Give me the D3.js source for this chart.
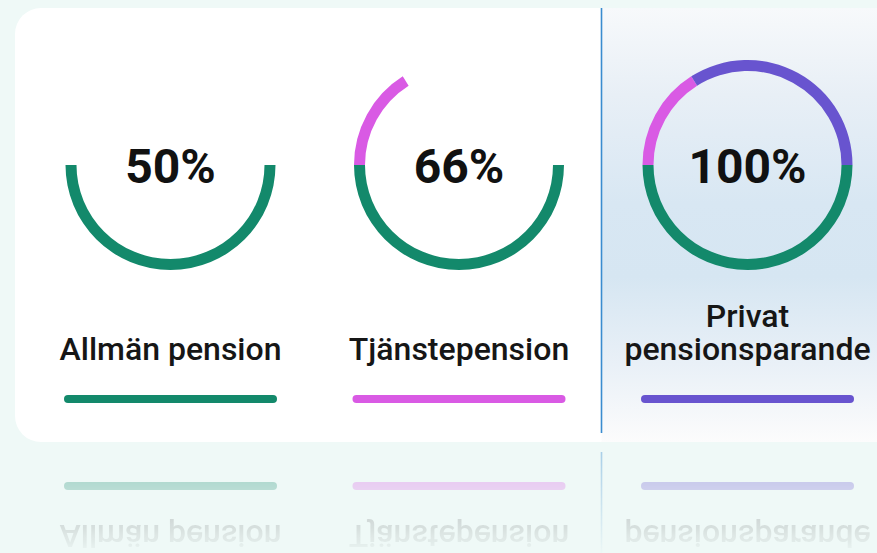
<!DOCTYPE html>
<html>
<head>
<meta charset="utf-8">
<script src="https://cdn.jsdelivr.net/npm/d3@7"></script>
<style>
  body { margin: 0; background: #eff9f7; overflow: hidden; }
  svg { display: block; }
</style>
</head>
<body>
<script>
// ---- data ----
const categories = ["Allmän pension", "Tjänstepension", "Privat pensionsparande"];
const labelLines = [["Allmän pension"], ["Tjänstepension"], ["Privat", "pensionsparande"]];
const shares = [50, 16, 34];              // share of each pension type, percent
const totalLabels = ["50%", "66%", "100%"];
const colors = ["#13896b", "#d95ae4", "#6854cf"];

// ---- layout ----
const W = 877, H = 553;
const cardTop = 8, cardBottom = 442, cardLeft = 15;
const divX = 601.5;
const cy = 165;
const rOuter = 105, rInner = 94;
const barY = 395, barW = 213, barH = 8;
const mirrorAxis = 442.5;

const svg = d3.select("body").append("svg")
    .attr("width", W)
    .attr("height", H);

const defs = svg.append("defs");

// gradient for the highlighted right column
const panelGrad = defs.append("linearGradient")
    .attr("id", "panelGrad")
    .attr("x1", 0).attr("y1", 0).attr("x2", 0).attr("y2", 1);
[[0, "#f7f9fb"], [0.2, "#e8eff6"], [0.45, "#d8e7f3"], [0.62, "#d6e6f2"], [0.82, "#e9f0f7"], [1, "#fcfcfc"]]
    .forEach(s => panelGrad.append("stop").attr("offset", s[0]).attr("stop-color", s[1]));

// fade for the reflection
const fadeGrad = defs.append("linearGradient")
    .attr("id", "fadeGrad")
    .attr("gradientUnits", "userSpaceOnUse")
    .attr("x1", 0).attr("y1", mirrorAxis).attr("x2", 0).attr("y2", 552);
fadeGrad.append("stop").attr("offset", 0).attr("stop-color", "#fff").attr("stop-opacity", 0.42);
fadeGrad.append("stop").attr("offset", 1).attr("stop-color", "#fff").attr("stop-opacity", 0.02);

defs.append("mask")
    .attr("id", "fadeMask")
    .attr("maskUnits", "userSpaceOnUse")
    .attr("x", 0).attr("y", 0).attr("width", W).attr("height", H)
  .append("rect")
    .attr("x", 0).attr("y", mirrorAxis).attr("width", W).attr("height", H - mirrorAxis)
    .attr("fill", "url(#fadeGrad)");

// card
svg.append("rect")
    .attr("x", cardLeft).attr("y", cardTop)
    .attr("width", W + 40).attr("height", cardBottom - cardTop)
    .attr("rx", 26)
    .attr("fill", "#ffffff");

svg.append("rect")
    .attr("x", divX).attr("y", cardTop)
    .attr("width", W - divX).attr("height", cardBottom - cardTop)
    .attr("fill", "url(#panelGrad)");

// scales
const x = d3.scalePoint().domain(categories).range([170.5, 747.5]);
const angle = d3.scaleLinear().domain([0, 100]).range([Math.PI / 2, Math.PI / 2 + 2 * Math.PI]);
const color = d3.scaleOrdinal().domain(categories).range(colors);

const arc = d3.arc().innerRadius(rInner).outerRadius(rOuter);

// gauges: gauge i stacks the shares of categories 0..i
const cum = d3.cumsum(shares);
categories.forEach((cat, i) => {
    const g = svg.append("g").attr("transform", `translate(${x(cat)},${cy})`);
    const segs = categories.slice(0, i + 1).map((c, j) => ({
        cat: c,
        start: j === 0 ? 0 : cum[j - 1],
        end: cum[j]
    }));
    g.selectAll("path")
        .data(segs)
        .join("path")
        .attr("d", d => arc({startAngle: angle(d.start), endAngle: angle(d.end)}))
        .attr("fill", d => color(d.cat));

    g.append("text")
        .attr("text-anchor", "middle")
        .attr("y", 18)
        .attr("font-family", "Roboto, sans-serif")
        .attr("font-weight", 700)
        .attr("font-size", 48)
        .attr("fill", "#111")
        .text(totalLabels[i]);
});

// legend part (bars + labels + divider), drawn twice: normal and mirrored
function drawLegend(parent) {
    parent.append("line")
        .attr("x1", divX).attr("x2", divX)
        .attr("y1", cardTop).attr("y2", 433)
        .attr("stroke", "#3a8ccf")
        .attr("stroke-width", 1.6);

    parent.selectAll("rect.bar")
        .data(categories)
        .join("rect")
        .attr("class", "bar")
        .attr("x", d => x(d) - barW / 2)
        .attr("y", barY)
        .attr("width", barW)
        .attr("height", barH)
        .attr("rx", barH / 2)
        .attr("fill", d => color(d));

    categories.forEach((cat, i) => {
        const lines = labelLines[i];
        const t = parent.append("text")
            .attr("text-anchor", "middle")
            .attr("font-family", "Roboto, sans-serif")
            .attr("font-weight", 500)
            .attr("font-size", 32)
            .attr("fill", "#161616");
        lines.forEach((ln, k) => {
            t.append("tspan")
                .attr("x", x(cat))
                .attr("y", 360 - (lines.length - 1 - k) * 33)
                .text(ln);
        });
    });
}

drawLegend(svg.append("g"));

const reflection = svg.append("g").attr("mask", "url(#fadeMask)");
drawLegend(reflection.append("g")
    .attr("transform", `translate(0,${2 * mirrorAxis}) scale(1,-1)`));
</script>
</body>
</html>
